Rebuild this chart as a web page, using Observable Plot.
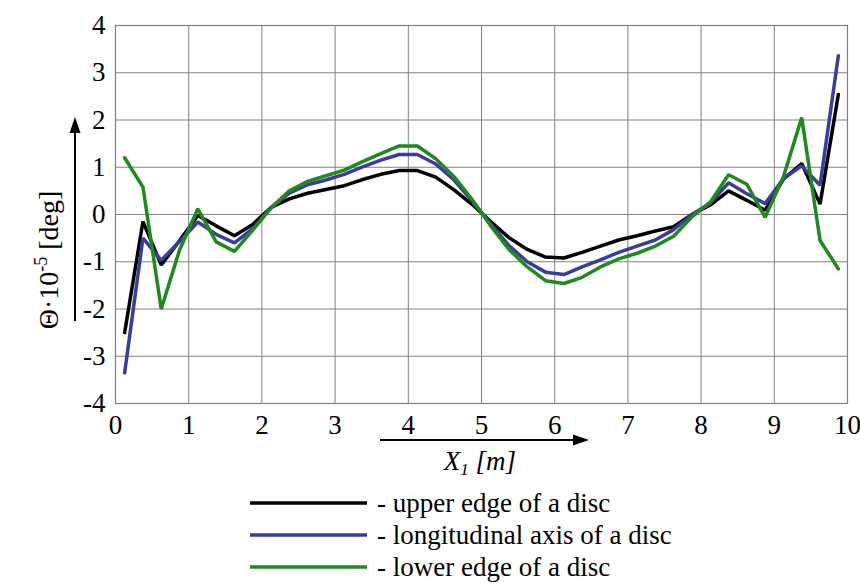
<!DOCTYPE html>
<html>
<head>
<meta charset="utf-8">
<script src="https://cdn.jsdelivr.net/npm/d3@7"></script>
<script src="https://cdn.jsdelivr.net/npm/@observablehq/plot@0.6"></script>
<style>
  html, body { margin: 0; padding: 0; background: #fff; }
  #wrap { position: relative; width: 860px; height: 585px; font-family: "Liberation Serif", "Times New Roman", serif; }
  #legend { position: absolute; left: 250px; top: 487px; font-size: 27px; color: #000; }
  .row { display: flex; align-items: center; height: 32px; }
  .row svg { display: block; margin-right: 10px; }
</style>
</head>
<body>
<div id="wrap">
  <div id="chart"></div>
  <div id="legend"></div>
</div>
<script>
// positions along the disc, X1 [m]
const xPos = [0.125, 0.375, 0.625, 0.875, 1.125, 1.375, 1.625, 1.875, 2.125, 2.375,
              2.625, 2.875, 3.125, 3.375, 3.625, 3.875, 4.125, 4.375, 4.625, 4.875,
              5.125, 5.375, 5.625, 5.875, 6.125, 6.375, 6.625, 6.875, 7.125, 7.375,
              7.625, 7.875, 8.125, 8.375, 8.625, 8.875, 9.125, 9.375, 9.625, 9.875];

// Θ·10^-5 [deg]
const upperEdge = [-2.50, -0.15, -1.07, -0.55, -0.02, -0.24, -0.45, -0.21, 0.15, 0.33,
                   0.45, 0.53, 0.61, 0.74, 0.85, 0.93, 0.93, 0.79, 0.52, 0.21,
                   -0.15, -0.49, -0.74, -0.90, -0.92, -0.80, -0.67, -0.54, -0.45, -0.35,
                   -0.26, 0.00, 0.20, 0.50, 0.30, 0.09, 0.75, 1.08, 0.22, 2.54];
const longAxis  = [-3.35, -0.50, -0.97, -0.57, -0.16, -0.42, -0.60, -0.30, 0.14, 0.45,
                   0.63, 0.73, 0.85, 1.01, 1.15, 1.27, 1.27, 1.07, 0.73, 0.28,
                   -0.20, -0.66, -1.00, -1.22, -1.27, -1.11, -0.96, -0.80, -0.67, -0.54,
                   -0.32, 0.00, 0.24, 0.67, 0.44, 0.23, 0.76, 1.03, 0.62, 3.36];
const lowerEdge = [1.20, 0.58, -2.00, -0.75, 0.12, -0.58, -0.78, -0.33, 0.14, 0.50,
                   0.70, 0.82, 0.94, 1.12, 1.29, 1.45, 1.45, 1.18, 0.80, 0.31,
                   -0.24, -0.74, -1.11, -1.40, -1.46, -1.33, -1.11, -0.94, -0.82, -0.67,
                   -0.46, -0.05, 0.26, 0.84, 0.64, -0.06, 0.80, 2.05, -0.55, -1.15];

const seriesNames  = ["upper edge of a disc", "longitudinal axis of a disc", "lower edge of a disc"];
const seriesColors = ["#000000", "#3b3b9e", "#1e8a1e"];
const xTicks = [0, 1, 2, 3, 4, 5, 6, 7, 8, 9, 10];
const yTicks = [-4, -3, -2, -1, 0, 1, 2, 3, 4];

const seriesValues = [upperEdge, longAxis, lowerEdge];
const tables = seriesValues.map((vals, i) =>
  xPos.map((x, j) => ({x, y: vals[j], series: seriesNames[i]})));

const gridColor = "#808080";
const chart = Plot.plot({
  width: 860,
  height: 480,
  marginLeft: 115,
  marginRight: 13,
  marginTop: 25,
  marginBottom: 77,
  x: {domain: [0, 10]},
  y: {domain: [-4, 4]},
  color: {domain: seriesNames, range: seriesColors},
  style: {fontFamily: "'Liberation Serif', 'Times New Roman', serif", fontSize: "27px", color: "#000", background: "#fff"},
  marks: [
    Plot.gridX(xTicks, {stroke: gridColor, strokeOpacity: 1, strokeWidth: 1}),
    Plot.gridY(yTicks, {stroke: gridColor, strokeOpacity: 1, strokeWidth: 1}),
    Plot.frame({stroke: gridColor, strokeWidth: 1.2}),
    Plot.axisX(xTicks, {tickSize: 0, tickPadding: 11, fontSize: 27, label: null, tickFormat: d => String(d)}),
    Plot.axisY(yTicks, {tickSize: 0, tickPadding: 10, fontSize: 27, label: null, tickFormat: d => String(d)}),
    ...tables.map(t => Plot.line(t, {x: "x", y: "y", stroke: "series", strokeWidth: 3.5, strokeLinejoin: "miter"}))
  ]
});
document.getElementById("chart").appendChild(chart);

// axis-label decorations (arrows and titles)
const svg = d3.select(chart);
const g = svg.append("g").attr("fill", "#000").attr("font-family", "'Liberation Serif', 'Times New Roman', serif");

// y label arrow
g.append("line").attr("x1", 75).attr("y1", 321).attr("x2", 75).attr("y2", 132)
  .attr("stroke", "#000").attr("stroke-width", 2);
g.append("path").attr("d", "M75,117 L69.5,133 L80.5,133 Z");
// y label text
const yl = g.append("text")
  .attr("transform", "translate(58,260) rotate(-90)")
  .attr("text-anchor", "middle")
  .attr("font-size", 28);
yl.append("tspan").text("\u0398\u00b710");
yl.append("tspan").attr("font-size", 18).attr("dy", -11).text("-5");
yl.append("tspan").attr("dy", 11).text(" [deg]");

// x label arrow
g.append("line").attr("x1", 380).attr("y1", 440).attr("x2", 574).attr("y2", 440)
  .attr("stroke", "#000").attr("stroke-width", 2);
g.append("path").attr("d", "M589,440 L573,434.5 L573,445.5 Z");
// x label text
const xl = g.append("text")
  .attr("x", 480).attr("y", 470)
  .attr("text-anchor", "middle")
  .attr("font-size", 27)
  .attr("font-style", "italic");
xl.append("tspan").text("X");
xl.append("tspan").attr("font-size", 17).attr("dy", 5).text("1");
xl.append("tspan").attr("dy", -5).text(" [m]");

// legend
const legend = d3.select("#legend");
seriesNames.forEach((name, i) => {
  const row = legend.append("div").attr("class", "row");
  const s = row.append("svg").attr("width", 117).attr("height", 10);
  s.append("line").attr("x1", 0).attr("x2", 117).attr("y1", 5).attr("y2", 5)
    .attr("stroke", seriesColors[i]).attr("stroke-width", 3.5);
  row.append("span").text("- " + name);
});
</script>
</body>
</html>
